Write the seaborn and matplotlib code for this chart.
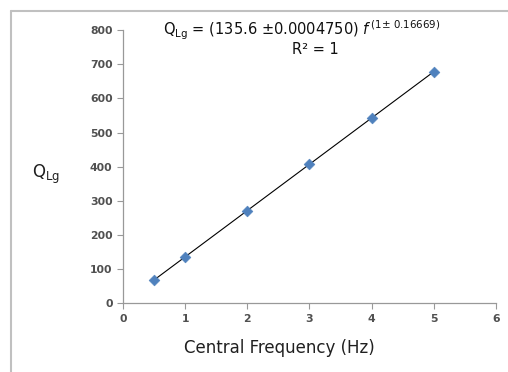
import numpy as np
import pandas as pd
import matplotlib
matplotlib.use("Agg")
import matplotlib.pyplot as plt
from matplotlib.lines import Line2D
import seaborn as sns

freq = [0.5, 1, 2, 3, 4, 5]
qlg = [67.8, 135.6, 271.2, 406.8, 542.4, 678.0]
xticks = [0, 1, 2, 3, 4, 5, 6]
yticks = [0, 100, 200, 300, 400, 500, 600, 700, 800]

sns.set_theme(style="white")
plt.rcParams['font.family'] = ['DejaVu Sans']

df = pd.DataFrame({"freq": freq, "qlg": qlg})

fig = plt.figure(figsize=(5.08, 3.72), dpi=100)
ax = fig.add_axes([0.242, 0.185, 0.734, 0.734])

# power-law trendline from the data
b, loga = np.polyfit(np.log(df.freq), np.log(df.qlg), 1)
xs = np.linspace(min(freq), max(freq), 50)
trend = pd.DataFrame({"x": xs, "y": np.exp(loga) * xs ** b})
sns.lineplot(data=trend, x="x", y="y", ax=ax, color="black", linewidth=0.8)
sns.scatterplot(data=df, x="freq", y="qlg", ax=ax, marker="D", s=30,
                color="#4F81BD", edgecolor="#4F81BD", zorder=3)

ax.set_xlim(0, 6)
ax.set_ylim(0, 800)
ax.set_xticks(xticks)
ax.set_yticks(yticks)
ax.tick_params(axis="both", labelsize=7.8, colors="#999999",
               length=4, width=0.8, direction="out", bottom=True, left=True)
for lbl in ax.get_xticklabels() + ax.get_yticklabels():
    lbl.set_color("#505050")
    lbl.set_fontweight("bold")
for s in ["top", "right"]:
    ax.spines[s].set_visible(False)
for s in ["left", "bottom"]:
    ax.spines[s].set_color("#999999")
    ax.spines[s].set_linewidth(0.9)
ax.set_xlabel("")
ax.set_ylabel("")

fig.text(0.55, 0.065, "Central Frequency (Hz)", ha="center", va="center",
         fontsize=12, color="#202020")
fig.text(0.09, 0.53, r"Q$_{\mathregular{Lg}}$", ha="center", va="center",
         fontsize=12, color="#202020")
fig.text(0.595, 0.918, r"Q$_{\mathregular{Lg}}$ = (135.6 ±0.0004750) $\it{f}^{\,\mathregular{(1±\ 0.16669)}}$",
         ha="center", va="center", fontsize=10.5, color="#101010")
fig.text(0.62, 0.866, "R² = 1", ha="center", va="center", fontsize=10.5, color="#101010")

# outer frame lines
fig.add_artist(Line2D([11/508, 1.0], [1 - 11/372, 1 - 11/372], transform=fig.transFigure,
                      color="#c0c0c0", linewidth=1.5))
fig.add_artist(Line2D([11/508, 11/508], [0.0, 1 - 11/372], transform=fig.transFigure,
                      color="#c0c0c0", linewidth=1.5))

fig.savefig("out.png", dpi=100)
